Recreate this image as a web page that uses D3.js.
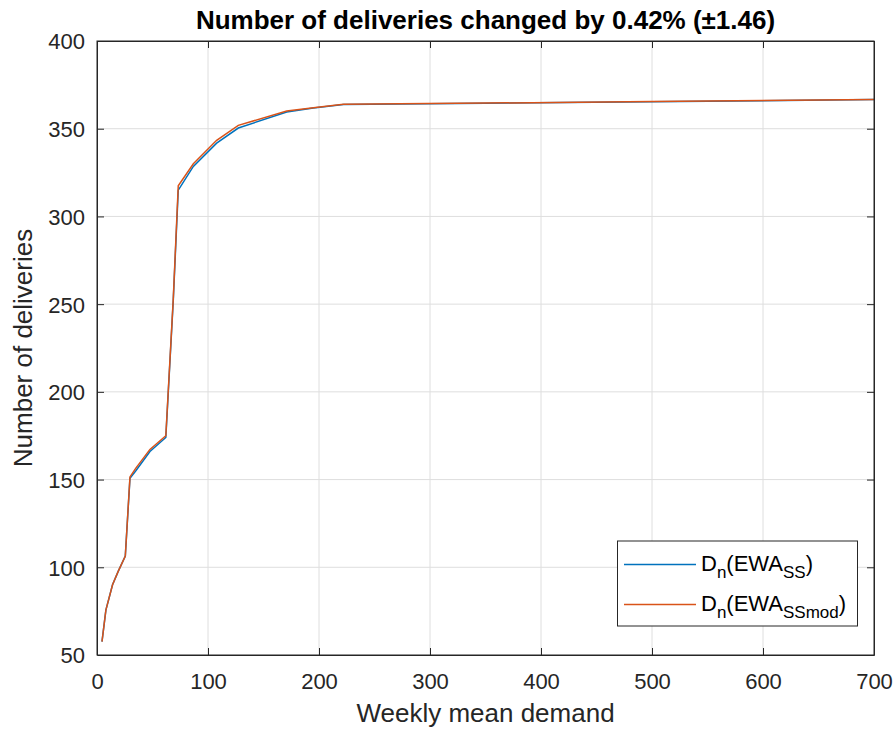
<!DOCTYPE html>
<html>
<head>
<meta charset="utf-8">
<script src="https://cdn.jsdelivr.net/npm/d3@7"></script>
<style>
  body { margin: 0; background: #fff; }
  svg { display: block; font-family: "Liberation Sans", Arial, Helvetica, sans-serif; }
</style>
</head>
<body>
<svg id="chart" width="896" height="732"></svg>
<script>
// Weekly mean demand (x) and number of deliveries for both safety-stock variants
const demandSS    = [4.5, 8, 14, 19, 25.5, 29.7, 35, 47.7, 62, 68.7, 73.2, 86.8, 107.8, 127.3, 170.9, 195, 222, 350, 500, 700];
const deliveriesSS = [57.6, 75.6, 90, 97.5, 106.4, 150.7, 155, 166, 174, 252, 315, 328.5, 341.8, 350.4, 359.5, 361.8, 363.8, 364.5, 365.4, 366.6];
const demandMod    = [4.5, 8, 14, 19, 25.5, 29.7, 35, 47.7, 62, 68.7, 73.2, 86.8, 107.8, 127.3, 170.9, 195, 222, 350, 500, 700];
const deliveriesMod = [57.6, 75.6, 90, 97.5, 106.4, 151.5, 156.5, 167.2, 175, 253, 317.5, 330, 343.4, 351.9, 360.1, 362, 363.9, 364.6, 365.5, 366.7];

const xTicks = [0, 100, 200, 300, 400, 500, 600, 700];
const yTicks = [50, 100, 150, 200, 250, 300, 350, 400];

const titleText = "Number of deliveries changed by 0.42% (\u00b11.46)";
const xLabel = "Weekly mean demand";
const yLabel = "Number of deliveries";

const svg = d3.select("#chart");
const L = 97, R = 874, T = 41, B = 655;
const axisColor = "#262626";
const tickFont = 22;

const x = d3.scaleLinear().domain([0, 700]).range([L, R]);
const y = d3.scaleLinear().domain([50, 400]).range([B, T]);

// grid
const grid = svg.append("g").attr("stroke", "#dedede").attr("stroke-width", 1);
xTicks.slice(1, -1).forEach(t => grid.append("line")
  .attr("x1", x(t)).attr("x2", x(t)).attr("y1", T).attr("y2", B));
yTicks.slice(1, -1).forEach(t => grid.append("line")
  .attr("y1", y(t)).attr("y2", y(t)).attr("x1", L).attr("x2", R));

// lines
const line = d3.line().x(d => x(d[0])).y(d => y(d[1]));
svg.append("path")
  .datum(demandSS.map((d, i) => [d, deliveriesSS[i]]))
  .attr("d", line).attr("fill", "none").attr("stroke", "#0072BD").attr("stroke-width", 1.5);
svg.append("path")
  .datum(demandMod.map((d, i) => [d, deliveriesMod[i]]))
  .attr("d", line).attr("fill", "none").attr("stroke", "#D95319").attr("stroke-width", 1.5);

// axes (ticks pointing inward, mirrored on top and right)
const tickLen = 7;
const xAxisB = d3.axisBottom(x).tickValues(xTicks).tickSizeInner(-tickLen).tickSizeOuter(0);
const gx = svg.append("g").attr("transform", `translate(0,${B})`).call(xAxisB);
const xAxisT = d3.axisTop(x).tickValues(xTicks).tickSizeInner(-tickLen).tickSizeOuter(0).tickFormat("");
const gxt = svg.append("g").attr("transform", `translate(0,${T})`).call(xAxisT);
const yAxisL = d3.axisLeft(y).tickValues(yTicks).tickSizeInner(-tickLen).tickSizeOuter(0).tickPadding(12);
const gy = svg.append("g").attr("transform", `translate(${L},0)`).call(yAxisL);
const yAxisR = d3.axisRight(y).tickValues(yTicks).tickSizeInner(-tickLen).tickSizeOuter(0).tickFormat("");
const gyr = svg.append("g").attr("transform", `translate(${R},0)`).call(yAxisR);

[gx, gxt, gy, gyr].forEach(g => {
  g.attr("font-size", tickFont).attr("font-family", "'Liberation Sans', Arial, sans-serif");
  g.select(".domain").attr("stroke", axisColor).attr("stroke-width", 1);
  g.selectAll(".tick line").attr("stroke", axisColor).attr("stroke-width", 1);
  g.selectAll(".tick text").attr("fill", axisColor);
});
gy.selectAll(".tick text").attr("dy", "0.36em");
gx.selectAll(".tick text").attr("y", 34).attr("dy", 0);
// the corner ticks coincide with the box
gx.select(".tick:first-of-type line").remove();
gy.select(".tick:first-of-type line").remove();

// box
svg.append("rect").attr("x", L).attr("y", T).attr("width", R - L).attr("height", B - T)
  .attr("fill", "none").attr("stroke", axisColor).attr("stroke-width", 1);

// title and axis labels
svg.append("text").attr("x", (L + R) / 2).attr("y", 29).attr("text-anchor", "middle")
  .attr("font-size", 26).attr("font-weight", "bold").attr("fill", "#000").text(titleText);
svg.append("text").attr("x", (L + R) / 2).attr("y", 722).attr("text-anchor", "middle")
  .attr("font-size", 26).attr("fill", axisColor).text(xLabel);
svg.append("text").attr("transform", `translate(32,${(T + B) / 2}) rotate(-90)`)
  .attr("text-anchor", "middle").attr("font-size", 26).attr("fill", axisColor).text(yLabel);

// legend
const leg = svg.append("g");
leg.append("rect").attr("x", 617.5).attr("y", 541).attr("width", 240).attr("height", 85)
  .attr("fill", "#fff").attr("stroke", axisColor).attr("stroke-width", 1);
const entries = [
  { color: "#0072BD", sub: "SS", yy: 564.5 },
  { color: "#D95319", sub: "SSmod", yy: 604.5 }
];
entries.forEach(e => {
  leg.append("line").attr("x1", 624).attr("x2", 696).attr("y1", e.yy).attr("y2", e.yy)
    .attr("stroke", e.color).attr("stroke-width", 1.5);
  const t = leg.append("text").attr("x", 701).attr("y", e.yy + 6).attr("font-size", 22).attr("fill", "#000");
  t.append("tspan").text("D");
  t.append("tspan").attr("font-size", 17).attr("dy", 7).text("n");
  t.append("tspan").attr("dy", -7).text("(EWA");
  t.append("tspan").attr("font-size", 17).attr("dy", 7).text(e.sub);
  t.append("tspan").attr("dy", -7).text(")");
});
</script>
</body>
</html>
